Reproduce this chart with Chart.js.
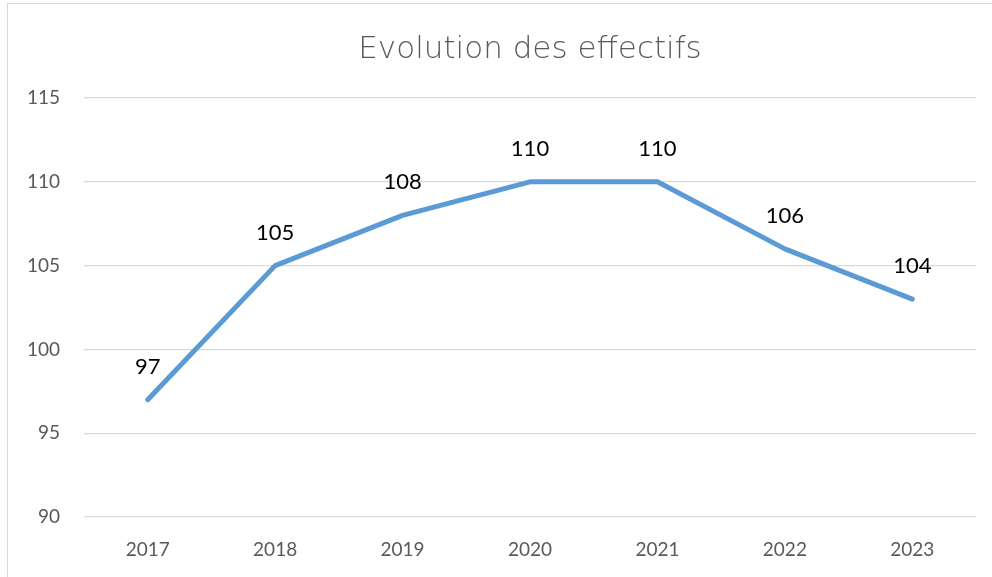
<!DOCTYPE html>
<html>
<head>
<meta charset="utf-8">
<script src="https://cdn.jsdelivr.net/npm/chart.js@4"></script>
<style>
  html, body { margin: 0; padding: 0; background: #fff; overflow: hidden; }
  #wrap { position: relative; width: 992px; height: 577px; }
  #frame { position: absolute; left: 7px; top: 3px; width: 1000px; height: 600px; border: 1.5px solid #d9d9d9; box-sizing: border-box; pointer-events: none; }
  canvas { position: absolute; left: 0; top: 0; }
</style>
</head>
<body>
<div id="wrap">
  <canvas id="c" width="992" height="577"></canvas>
  <div id="frame"></div>
</div>
<script>
const categories = ['2017', '2018', '2019', '2020', '2021', '2022', '2023'];
const values = [97, 105, 108, 110, 110, 106, 103];
const dataLabels = ['97', '105', '108', '110', '110', '106', '104'];
const yTicks = [90, 95, 100, 105, 110, 115];
const titleText = 'Evolution des effectifs';

const labelPlugin = {
  id: 'pointLabels',
  afterDatasetsDraw(chart) {
    const ctx = chart.ctx;
    const xs = chart.scales.x, ys = chart.scales.y;
    ctx.save();
    ctx.font = '22px Lato, "Open Sans", sans-serif';
    ctx.fillStyle = '#000000';
    ctx.textAlign = 'center';
    ctx.textBaseline = 'middle';
    values.forEach((v, i) => {
      const x = xs.getPixelForValue(i);
      const y = ys.getPixelForValue(v);
      ctx.fillText(dataLabels[i], x, y - 33);
    });
    ctx.restore();
  }
};

new Chart(document.getElementById('c'), {
  type: 'line',
  data: {
    labels: categories,
    datasets: [{
      data: values,
      borderColor: '#5B9BD5',
      borderWidth: 5,
      borderCapStyle: 'round',
      borderJoinStyle: 'round',
      pointRadius: 0,
      tension: 0,
      fill: false
    }]
  },
  options: {
    responsive: false,
    animation: false,
    devicePixelRatio: 1,
    layout: { padding: { left: 0, right: 16, top: 0, bottom: 0 } },
    plugins: {
      legend: { display: false },
      tooltip: { enabled: false },
      title: {
        display: true,
        fullSize: false,
        text: titleText,
        color: '#595959',
        font: { family: '"DejaVu Sans", Lato, sans-serif', size: 31, weight: 200 },
        padding: { top: 31.4, bottom: 29.4 }
      }
    },
    scales: {
      x: {
        offset: true,
        grid: { display: false, drawTicks: false },
        border: { display: false },
        ticks: { color: '#595959', font: { family: 'Lato, "Open Sans", sans-serif', size: 19 }, padding: 21 },
        afterFit(s) { s.height = 60; }
      },
      y: {
        min: 90, max: 115,
        afterBuildTicks(s) { s.ticks = yTicks.map(v => ({ value: v })); },
        grid: { color: '#d9d9d9', lineWidth: 1.3, drawTicks: false },
        border: { display: false },
        ticks: { color: '#595959', font: { family: 'Lato, "Open Sans", sans-serif', size: 19 }, padding: 24 },
        afterFit(s) { s.width = 84; }
      }
    }
  },
  plugins: [labelPlugin]
});
</script>
</body>
</html>
